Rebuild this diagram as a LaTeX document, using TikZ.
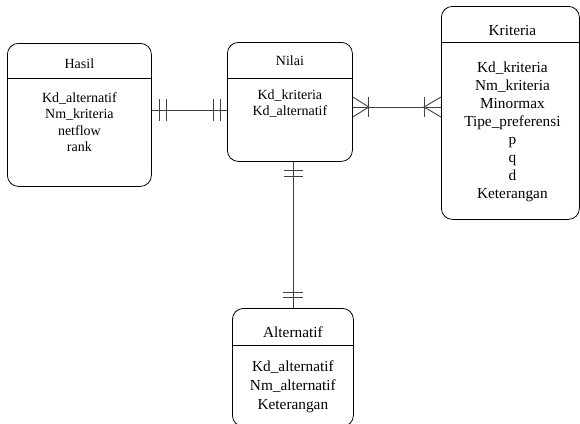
\documentclass[tikz,border=0pt]{standalone}
\usepackage{fontspec}
\setmainfont{Liberation Serif}
\usetikzlibrary{calc}
\begin{document}
\begin{tikzpicture}[x=1pt,y=-1pt,
  entity/.style={draw=black, rounded corners=11pt, line width=0.8pt, inner sep=0pt, anchor=north west},
  hdr/.style={draw=black, line width=0.8pt},
  conn/.style={draw=black!75, line width=0.9pt},
  smalltxt/.style={font=\fontsize{14}{16}\selectfont, anchor=base, inner sep=0pt},
  bigtxt/.style={font=\fontsize{15.3}{18}\selectfont, anchor=base, inner sep=0pt}]
\useasboundingbox (0,0) rectangle (580,423);
\clip (0,0) rectangle (580,423);
% entities
\node[entity, minimum width=144pt, minimum height=143pt] (hasil) at (7,43) {};
\node[entity, minimum width=125pt, minimum height=119pt] (nilai) at (227,42) {};
\node[entity, minimum width=138pt, minimum height=213pt] (kriteria) at (441,6) {};
\node[entity, minimum width=121pt, minimum height=118pt] (alternatif) at (232,308) {};
% header separators
\draw[hdr] (hasil.west |- 0,78) -- (hasil.east |- 0,78);
\draw[hdr] (nilai.west |- 0,78) -- (nilai.east |- 0,78);
\draw[hdr] (kriteria.west |- 0,42) -- (kriteria.east |- 0,42);
\draw[hdr] (alternatif.west |- 0,345) -- (alternatif.east |- 0,345);
% Hasil text
\node[smalltxt] (hasilT) at (hasil.north |- 0,68) {Hasil};
\foreach \t [count=\i from 0] in {Kd\_alternatif, Nm\_kriteria, netflow, rank}
  \node[smalltxt] (hasil\i) at ($(hasil.north |- 0,102)+(0,16.5*\i)$) {\t};
% Nilai text
\node[smalltxt] (nilaiT) at (nilai.north |- 0,65) {Nilai};
\foreach \t [count=\i from 0] in {Kd\_kriteria, Kd\_alternatif}
  \node[smalltxt] (nilai\i) at ($(nilai.north |- 0,99)+(0,16*\i)$) {\t};
% Kriteria text
\node[bigtxt] (kriteriaT) at ($(kriteria.north |- 0,35)+(2,0)$) {Kriteria};
\foreach \t [count=\i from 0] in {Kd\_kriteria, Nm\_kriteria, Minormax, Tipe\_preferensi, p, q, d, Keterangan}
  \node[bigtxt] (krit\i) at ($(kriteria.north |- 0,72)+(2,18*\i)$) {\t};
% Alternatif text
\node[bigtxt] (altT) at (alternatif.north |- 0,337) {Alternatif};
\foreach \t [count=\i from 0] in {Kd\_alternatif, Nm\_alternatif, Keterangan}
  \node[bigtxt] (alt\i) at ($(alternatif.north |- 0,371)+(0,19*\i)$) {\t};
% connectors
\coordinate (hn) at (0,110);
\coordinate (nk) at (0,107);
\coordinate (na) at (293,0);
% Hasil - Nilai (one and only one both sides)
\draw[conn] (hasil.east |- hn) -- (nilai.west |- hn);
\foreach \dx in {8,15}
  \draw[conn] ($(hasil.east |- hn)+(\dx,-11)$) -- ++(0,22);
\foreach \dx in {7,14}
  \draw[conn] ($(nilai.west |- hn)+(-\dx,-11)$) -- ++(0,22);
% Nilai - Kriteria (one or many both sides)
\draw[conn] (nilai.east |- nk) -- (kriteria.west |- nk);
\draw[conn] ($(nilai.east |- nk)+(0,-10)$) -- ($(nilai.east |- nk)+(16,0)$) -- ($(nilai.east |- nk)+(0,10)$);
\draw[conn] ($(nilai.east |- nk)+(16,-10)$) -- ++(0,20);
\draw[conn] ($(kriteria.west |- nk)+(0,-10)$) -- ($(kriteria.west |- nk)+(-17,0)$) -- ($(kriteria.west |- nk)+(0,10)$);
\draw[conn] ($(kriteria.west |- nk)+(-17,-10)$) -- ++(0,20);
% Nilai - Alternatif (one and only one both sides)
\draw[conn] (na |- nilai.south) -- (na |- alternatif.north);
\foreach \dy in {9,15}
  \draw[conn] ($(na |- nilai.south)+(-9,\dy)$) -- ++(19,0);
\foreach \dy in {11,16}
  \draw[conn] ($(na |- alternatif.north)+(-10,-\dy)$) -- ++(20,0);
\end{tikzpicture}
\end{document}
